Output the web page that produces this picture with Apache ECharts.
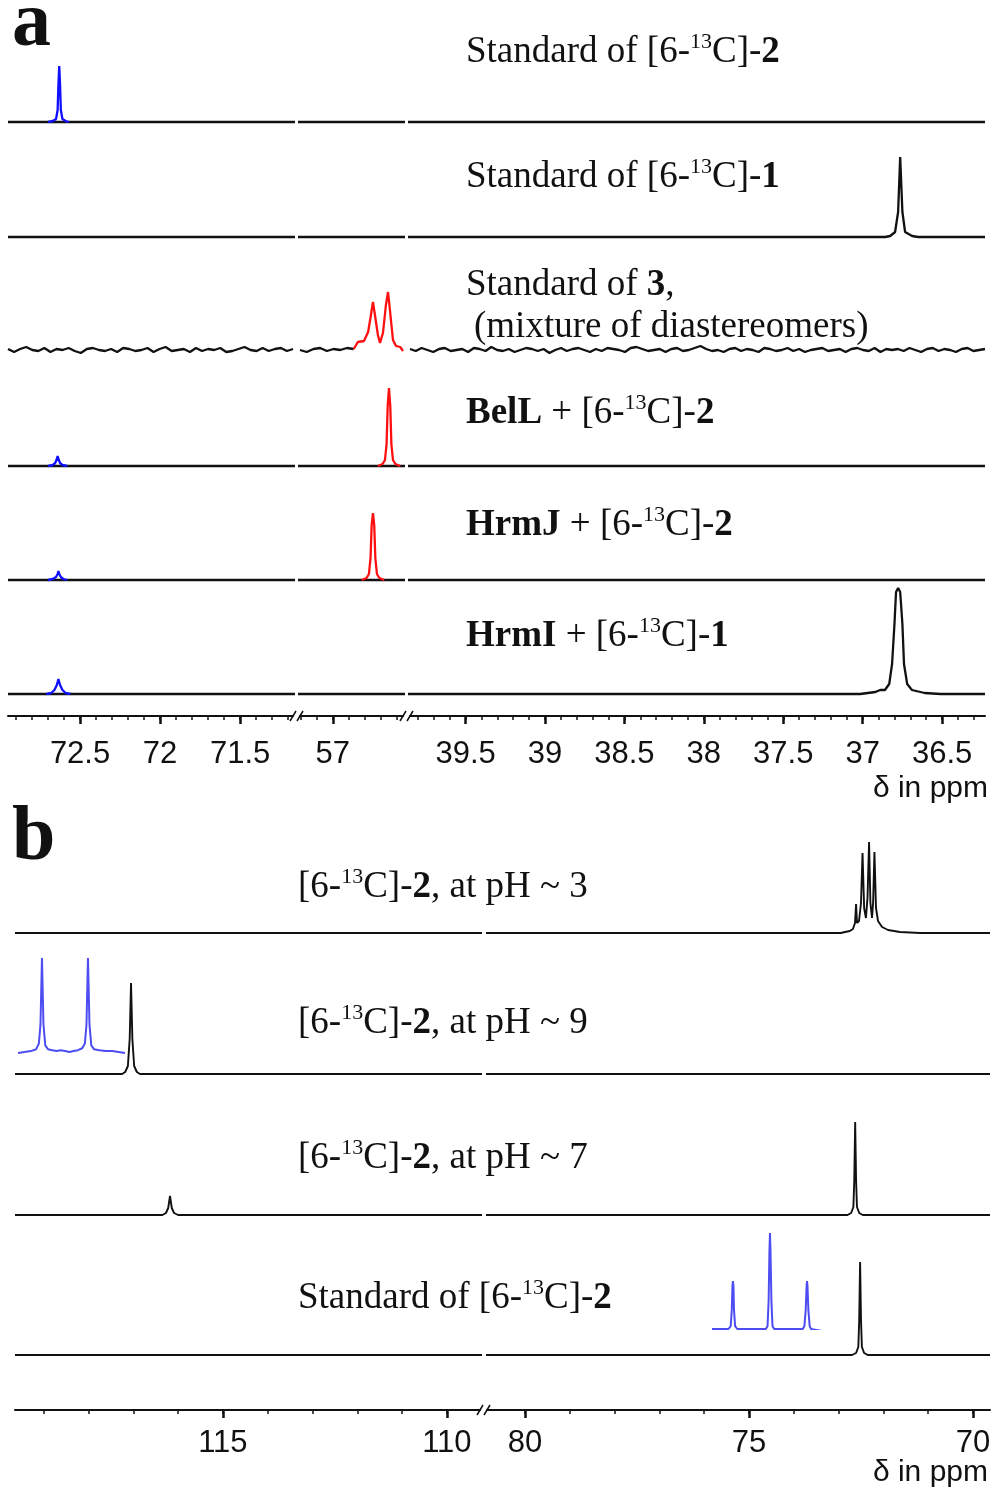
<!DOCTYPE html>
<html>
<head>
<meta charset="utf-8">
<script src="https://cdn.jsdelivr.net/npm/echarts@6/dist/echarts.min.js"></script>
<style>
  html, body { margin: 0; background: #fff; }
  #main { width: 998px; height: 1500px; }
</style>
</head>
<body>
<div id="main"></div>
<script>
// ---- axis ranges (ppm, left -> right) and tick labels ----
var aRanges = [[72.95, 71.17], [57.205, 56.5625], [39.85, 36.23]];
var aTicks = [[72.5, 72, 71.5], [57], [39.5, 39, 38.5, 38, 37.5, 37, 36.5]];
var bRanges = [[119.64, 109.26], [80.85, 69.62]];
var bTicks = [[115, 110], [80, 75, 70]];

// ---- panel a spectra: [ppm, intensity] ----
var a1Blue = [[72.70, 0], [72.67, 0.01], [72.65, 0.03], [72.64, 0.12], [72.635, 0.38], [72.63, 0.56], [72.625, 0.38], [72.62, 0.12], [72.61, 0.03], [72.59, 0.01], [72.57, 0]];
var a2Black = [[72.95, 0], [36.86, 0], [36.827, 0.01], [36.796, 0.05], [36.777, 0.25], [36.764, 0.80], [36.75, 0.25], [36.733, 0.05], [36.689, 0.01], [36.65, 0], [36.23, 0]];
var a3Noise1 = [0.01, -0.02, 0.01, 0.03, 0.00, -0.01, 0.02, -0.02, 0.01, 0.00, 0.02, -0.01, -0.03, 0.01, 0.02, 0.00, -0.01, 0.01, -0.02, 0.02, 0.01, -0.01, 0.00, 0.02, -0.02, 0.01, 0.03, -0.01, 0.00, 0.01, -0.02, 0.02, -0.01, 0.01, 0.00, 0.02, -0.02, -0.01, 0.01, 0.03, 0.00, -0.01, 0.02, -0.01, 0.01, 0.02, -0.01, 0.01];
var a3Noise2 = [0.00, -0.02, 0.01, 0.02, -0.01, 0.01, 0.00, 0.02, 0.01];
var a3Red = [[56.87, 0.01], [56.8625, 0.02], [56.844, 0.08], [56.806, 0.09], [56.78, 0.18], [56.7625, 0.35], [56.75, 0.48], [56.7375, 0.35], [56.719, 0.15], [56.706, 0.07], [56.6875, 0.17], [56.669, 0.45], [56.656, 0.58], [56.644, 0.40], [56.625, 0.10], [56.606, 0.04], [56.58, 0.03], [56.5625, -0.01]];
var a3Noise3 = [0.01, -0.01, 0.02, 0.00, -0.02, 0.01, 0.02, -0.01, 0.00, 0.01, -0.02, 0.02, 0.01, -0.01, 0.03, 0.00, -0.01, 0.01, -0.02, 0.00, 0.02, 0.01, -0.01, 0.01, -0.03, 0.00, 0.02, -0.01, 0.01, 0.02, 0.00, -0.02, 0.01, -0.01, 0.02, 0.01, 0.00, -0.02, 0.02, 0.03, 0.01, -0.01, 0.00, 0.01, -0.02, 0.01, 0.02, -0.01, 0.00, 0.02, 0.04, 0.01, -0.01, 0.00, -0.02, 0.01, 0.02, -0.01, 0.01, 0.00, -0.02, 0.02, 0.01, -0.01, 0.00, 0.02, -0.01, 0.01, -0.02, 0.00, 0.01, 0.02, -0.01, 0.00, 0.01, -0.02, 0.01, 0.02, 0.00, -0.01, 0.02, -0.02, 0.01, 0.00, 0.01, -0.01, 0.02, 0.00, -0.02, 0.01, 0.02, -0.01, 0.01, 0.00, -0.02, 0.01, 0.02, -0.01, 0.00, 0.01];
var a4Blue = [[72.70, 0], [72.67, 0.01], [72.655, 0.03], [72.645, 0.07], [72.64, 0.10], [72.635, 0.07], [72.625, 0.03], [72.61, 0.01], [72.58, 0]];
var a4Red = [[56.72, 0], [56.69, 0.02], [56.675, 0.06], [56.665, 0.22], [56.658, 0.60], [56.65, 0.78], [56.642, 0.60], [56.635, 0.22], [56.625, 0.06], [56.61, 0.02], [56.58, 0]];
var a5Blue = [[72.70, 0], [72.67, 0.01], [72.65, 0.03], [72.64, 0.06], [72.635, 0.09], [72.63, 0.06], [72.62, 0.03], [72.605, 0.01], [72.58, 0]];
var a5Red = [[56.82, 0], [56.79, 0.02], [56.775, 0.06], [56.765, 0.22], [56.758, 0.55], [56.75, 0.67], [56.742, 0.55], [56.735, 0.22], [56.725, 0.06], [56.71, 0.02], [56.68, 0]];
var a6Blue = [[72.71, 0], [72.68, 0.01], [72.66, 0.04], [72.645, 0.09], [72.635, 0.15], [72.625, 0.09], [72.61, 0.04], [72.59, 0.01], [72.56, 0]];
var a6Black = [[72.95, 0], [37.016, 0], [36.92, 0.02], [36.89, 0.04], [36.86, 0.04], [36.833, 0.10], [36.815, 0.30], [36.80, 0.70], [36.79, 1.02], [36.777, 1.06], [36.764, 1.02], [36.75, 0.70], [36.74, 0.30], [36.72, 0.10], [36.69, 0.04], [36.61, 0.01], [36.51, 0], [36.23, 0]];

// ---- panel b spectra ----
var bPh3 = [[119.64, 0], [72.95, 0], [72.857, 0.01], [72.75, 0.02], [72.68, 0.04], [72.634, 0.10], [72.61, 0.29], [72.59, 0.10], [72.545, 0.12], [72.50, 0.30], [72.466, 0.80], [72.43, 0.25], [72.39, 0.15], [72.355, 0.35], [72.32, 0.91], [72.29, 0.30], [72.254, 0.15], [72.23, 0.30], [72.20, 0.81], [72.165, 0.25], [72.12, 0.12], [72.03, 0.06], [71.897, 0.03], [71.63, 0.01], [71.18, 0], [69.62, 0]];
var bPh9 = [[119.64, 0], [117.25, 0], [117.18, 0.02], [117.12, 0.08], [117.08, 0.35], [117.05, 0.91], [117.02, 0.35], [116.98, 0.08], [116.92, 0.02], [116.85, 0], [69.62, 0]];
var bPh7 = [[119.64, 0], [116.35, 0], [116.27, 0.02], [116.22, 0.07], [116.18, 0.19], [116.14, 0.07], [116.09, 0.02], [116.0, 0], [72.8, 0], [72.72, 0.02], [72.67, 0.08], [72.65, 0.35], [72.63, 0.93], [72.61, 0.35], [72.59, 0.08], [72.54, 0.02], [72.46, 0], [69.62, 0]];
var bStd = [[119.64, 0], [72.7, 0], [72.61, 0.02], [72.56, 0.08], [72.54, 0.35], [72.52, 0.93], [72.50, 0.35], [72.48, 0.08], [72.43, 0.02], [72.35, 0], [69.62, 0]];
// insets (relative position, relative height)
var insetPh9 = [[0, 0.0], [0.06, 0.01], [0.12, 0.02], [0.17, 0.04], [0.195, 0.1], [0.21, 0.3], [0.218, 0.7], [0.224, 1.0], [0.23, 0.7], [0.238, 0.3], [0.255, 0.08], [0.28, 0.04], [0.32, 0.03], [0.36, 0.02], [0.40, 0.03], [0.44, 0.02], [0.48, 0.01], [0.52, 0.02], [0.56, 0.03], [0.60, 0.05], [0.625, 0.1], [0.64, 0.3], [0.648, 0.7], [0.654, 1.0], [0.66, 0.7], [0.668, 0.3], [0.685, 0.08], [0.71, 0.04], [0.76, 0.03], [0.82, 0.02], [0.88, 0.02], [0.94, 0.01], [1.0, 0.0]];
var insetStd = [[0, 0], [0.15, 0], [0.17, 0.03], [0.18, 0.2], [0.186, 0.45], [0.19, 0.5], [0.195, 0.45], [0.2, 0.2], [0.21, 0.03], [0.23, 0], [0.49, 0], [0.505, 0.03], [0.515, 0.3], [0.522, 0.8], [0.527, 1.0], [0.532, 0.8], [0.54, 0.3], [0.55, 0.03], [0.565, 0], [0.825, 0], [0.84, 0.03], [0.852, 0.2], [0.86, 0.45], [0.864, 0.5], [0.868, 0.45], [0.876, 0.2], [0.888, 0.03], [0.9, 0], [1.0, -0.02]];

// ---- labels ----
var aLabels = [
  '{n|Standard of [6-}{s|13}{n|C]-}{b|2}',
  '{n|Standard of [6-}{s|13}{n|C]-}{b|1}',
  '{n|Standard of }{b|3}{n|,}',
  '{n|(mixture of diastereomers)}',
  '{b|BelL}{n| + [6-}{s|13}{n|C]-}{b|2}',
  '{b|HrmJ}{n| + [6-}{s|13}{n|C]-}{b|2}',
  '{b|HrmI}{n| + [6-}{s|13}{n|C]-}{b|1}'
];
var bLabels = [
  '{n|[6-}{s|13}{n|C]-}{b|2}{n|, at pH ~ 3}',
  '{n|[6-}{s|13}{n|C]-}{b|2}{n|, at pH ~ 9}',
  '{n|[6-}{s|13}{n|C]-}{b|2}{n|, at pH ~ 7}',
  '{n|Standard of [6-}{s|13}{n|C]-}{b|2}'
];
var axisName = 'δ in ppm';

// ---- layout ----
var SERIF = 'Liberation Serif';
var SANS = 'Liberation Sans';
var aGridX = [[8, 293], [300, 403], [410, 985]];
var bGridX = [[15, 480], [487, 990]];
var aTop = 40, aBottom = 716, bTop = 830, bBottom = 1410;
var aBase = [5.94, 4.79, 3.66, 2.50, 1.36, 0.22];
var bBase = [4.77, 3.36, 1.95, 0.55];
var aLabelPos = [[466, 52], [466, 177], [466, 285], [474, 327], [466, 413], [466, 525], [466, 636]];
var bLabelPos = [[298, 887], [298, 1023], [298, 1158], [298, 1298]];
var inset1 = { left: 18, top: 958, width: 107, height: 95 };
var inset2 = { left: 712, top: 1233, width: 110, height: 96 };
var BLUE = '#1010ff', RED = '#ff1010', INK = '#111', INSET = '#4d4df2';

var myChart = echarts.init(document.getElementById('main'), null, { renderer: 'canvas' });

function shift(data, base) {
  return data.map(function (p) { return [p[0], p[1] + base]; });
}
function noiseLine(vals, from, to) {
  var step = (to - from) / (vals.length - 1);
  return vals.map(function (v, i) { return [from + i * step, v]; });
}
function minorTicks(range, step) {
  var lo = Math.min(range[0], range[1]), hi = Math.max(range[0], range[1]);
  var out = [];
  for (var v = Math.ceil(lo / step) * step; v <= hi + 1e-9; v += step) {
    out.push(Math.round(v * 100) / 100);
  }
  return out;
}

var grids = [], xAxes = [], yAxes = [], series = [];

function addSegment(xr, top, bottom, range, ticks, minorStep, yMax, labelMargin) {
  var gi = grids.length;
  grids.push({ left: xr[0], width: xr[1] - xr[0], top: top, height: bottom - top });
  var lo = Math.min(range[0], range[1]), hi = Math.max(range[0], range[1]);
  xAxes.push({
    type: 'value', gridIndex: gi, inverse: true, min: lo, max: hi, position: 'bottom',
    axisLine: { show: true, onZero: false, lineStyle: { color: INK, width: 2 } },
    axisTick: { show: true, customValues: ticks, length: 8, lineStyle: { color: INK, width: 2.5 } },
    axisLabel: { show: true, customValues: ticks, margin: labelMargin, fontSize: 31, fontFamily: SANS, color: INK },
    splitLine: { show: false }
  });
  xAxes.push({
    type: 'value', gridIndex: gi, inverse: true, min: lo, max: hi, position: 'bottom',
    axisLine: { show: false },
    axisTick: { show: true, customValues: minorTicks(range, minorStep), length: 4, lineStyle: { color: INK, width: 1.5 } },
    axisLabel: { show: false },
    splitLine: { show: false }
  });
  yAxes.push({ type: 'value', gridIndex: gi, min: 0, max: yMax, show: false });
  return gi;
}

function addInset(box) {
  var gi = grids.length;
  grids.push(box);
  xAxes.push({ type: 'value', gridIndex: gi, min: 0, max: 1, show: false });
  yAxes.push({ type: 'value', gridIndex: gi, min: 0, max: 1, show: false });
  return gi;
}

function line(gi, data, color, width, z) {
  var xi = 0;
  for (var k = 0; k < xAxes.length; k++) { if (xAxes[k].gridIndex === gi) { xi = k; break; } }
  series.push({
    type: 'line', xAxisIndex: xi, yAxisIndex: gi, data: data,
    symbol: 'none', clip: true, silent: true, animation: false, z: z || 2,
    lineStyle: { color: color, width: width }
  });
}

// panel a segments
var aSeg = [];
for (var s = 0; s < 3; s++) {
  aSeg.push(addSegment(aGridX[s], aTop, aBottom, aRanges[s], aTicks[s], 0.1, (aBottom - aTop) / 100, 23));
}
// panel b segments
var bSeg = [];
for (var t = 0; t < 2; t++) {
  bSeg.push(addSegment(bGridX[t], bTop, bBottom, bRanges[t], bTicks[t], 1, (bBottom - bTop) / 100, 18));
}
var gIn1 = addInset(inset1);
var gIn2 = addInset(inset2);

var flatA = [[72.95, 0], [36.23, 0]];
var W = 2.3;
aSeg.forEach(function (g) {
  // row 1
  line(g, shift(flatA, aBase[0]), INK, W);
  line(g, shift(a1Blue, aBase[0]), BLUE, W, 3);
  // row 2
  line(g, shift(a2Black, aBase[1]), INK, W);
  // row 4
  line(g, shift(flatA, aBase[3]), INK, W);
  line(g, shift(a4Blue, aBase[3]), BLUE, W, 3);
  line(g, shift(a4Red, aBase[3]), RED, W, 3);
  // row 5
  line(g, shift(flatA, aBase[4]), INK, W);
  line(g, shift(a5Blue, aBase[4]), BLUE, W, 3);
  line(g, shift(a5Red, aBase[4]), RED, W, 3);
  // row 6
  line(g, shift(a6Black, aBase[5]), INK, W);
  line(g, shift(a6Blue, aBase[5]), BLUE, W, 3);
});
// row 3 (noisy)
line(aSeg[0], shift(noiseLine(a3Noise1, aRanges[0][0], aRanges[0][1]), aBase[2]), INK, W);
line(aSeg[1], shift(noiseLine(a3Noise2, aRanges[1][0], 56.87), aBase[2]), INK, W);
line(aSeg[1], shift(a3Red, aBase[2]), RED, W, 3);
line(aSeg[2], shift(noiseLine(a3Noise3, aRanges[2][0], aRanges[2][1]), aBase[2]), INK, W);

var WB = 1.9;
bSeg.forEach(function (g) {
  line(g, shift(bPh3, bBase[0]), INK, WB);
  line(g, shift(bPh9, bBase[1]), INK, WB);
  line(g, shift(bPh7, bBase[2]), INK, WB);
  line(g, shift(bStd, bBase[3]), INK, WB);
});
line(gIn1, insetPh9, INSET, 2);
line(gIn2, insetStd, INSET, 2);

// ---- texts and break marks ----
var rich = {
  n: { fontSize: 37, fontFamily: SERIF, fill: INK, lineHeight: 42 },
  b: { fontSize: 37, fontFamily: SERIF, fontWeight: 'bold', fill: INK, lineHeight: 42 },
  s: { fontSize: 22, fontFamily: SERIF, fill: INK, lineHeight: 24, verticalAlign: 'top' }
};
var graphics = [];
function addText(txt, pos) {
  graphics.push({
    type: 'text', x: pos[0], y: pos[1], silent: true,
    style: { text: txt, rich: rich, align: 'left', verticalAlign: 'middle' }
  });
}
aLabels.forEach(function (txt, i) { addText(txt, aLabelPos[i]); });
bLabels.forEach(function (txt, i) { addText(txt, bLabelPos[i]); });

graphics.push({ type: 'text', x: 12, y: 25, silent: true,
  style: { text: 'a', fontSize: 78, fontFamily: SERIF, fontWeight: 'bold', fill: INK, verticalAlign: 'middle' } });
graphics.push({ type: 'text', x: 12, y: 839, silent: true,
  style: { text: 'b', fontSize: 78, fontFamily: SERIF, fontWeight: 'bold', fill: INK, verticalAlign: 'middle' } });
graphics.push({ type: 'text', x: 988, y: 789, silent: true,
  style: { text: axisName, fontSize: 30, fontFamily: SANS, fill: INK, align: 'right', verticalAlign: 'middle' } });
graphics.push({ type: 'text', x: 988, y: 1473, silent: true,
  style: { text: axisName, fontSize: 30, fontFamily: SANS, fill: INK, align: 'right', verticalAlign: 'middle' } });

function breakMark(x, y) {
  graphics.push({ type: 'line', silent: true,
    shape: { x1: x - 3, y1: y + 5, x2: x + 3, y2: y - 5 },
    style: { stroke: INK, lineWidth: 1.5 } });
}
for (var i = 0; i < aGridX.length - 1; i++) {
  breakMark(aGridX[i][1], aBottom);
  breakMark(aGridX[i + 1][0], aBottom);
}
breakMark(bGridX[0][1], bBottom);
breakMark(bGridX[1][0], bBottom);

myChart.setOption({
  animation: false,
  backgroundColor: '#fff',
  grid: grids,
  xAxis: xAxes,
  yAxis: yAxes,
  series: series,
  graphic: graphics
});
</script>
</body>
</html>
